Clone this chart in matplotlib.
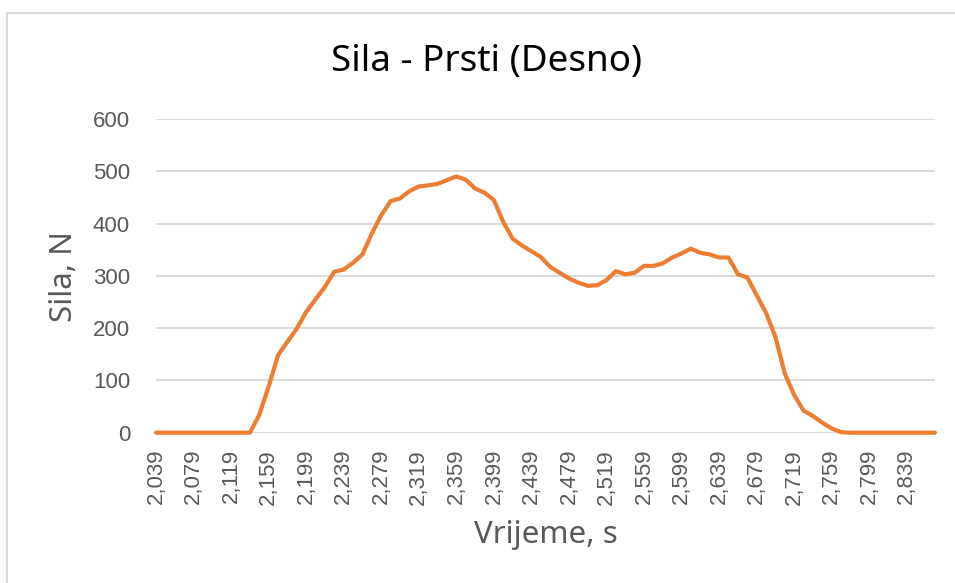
import matplotlib
matplotlib.use("Agg")
import matplotlib.pyplot as plt
from matplotlib.patches import Rectangle

# Data
start_time = 2.039
step = 0.01
force = [0, 0, 0, 0, 0, 0, 0, 0, 0, 0,
         0, 34, 88, 148, 174, 199, 231, 255, 279, 308,
         312, 325, 341, 381, 416, 443, 448, 462, 471, 473,
         476, 483, 490, 484, 467, 459, 445, 403, 371, 358,
         347, 336, 317, 306, 295, 287, 281, 282, 292, 309,
         303, 306, 319, 319, 324, 335, 343, 352, 344, 341,
         335, 335, 303, 297, 263, 229, 183, 113, 72, 42,
         32, 19, 8, 1, 0, 0, 0, 0, 0, 0,
         0, 0, 0, 0]
times = [start_time + step * i for i in range(len(force))]
time_labels = [f"{t:.3f}".replace(".", ",") for t in times]
label_every = 4
y_ticks = [0, 100, 200, 300, 400, 500, 600]

title = "Sila - Prsti (Desno)"
xlabel = "Vrijeme, s"
ylabel = "Sila, N"

W, H = 955, 583
fig = plt.figure(figsize=(W / 100, H / 100), dpi=100)
fig.patch.set_facecolor("white")

# chart border (left/top visible)
fig.patches.append(Rectangle((7 / W, -0.05), 1.2, (H - 13) / H + 0.05,
                             transform=fig.transFigure, fill=False,
                             edgecolor="#d9d9d9", linewidth=1.5))

left, right, top, bottom = 156, 935, 119, 432.7
ax = fig.add_axes([left / W, 1 - bottom / H, (right - left) / W, (bottom - top) / H])

x = list(range(len(force)))
ax.plot(x, force, color="#ED7D31", linewidth=3.0, solid_joinstyle="round",
        solid_capstyle="round", zorder=3, clip_on=False)

ax.set_xlim(0, len(force) - 1)
ax.set_ylim(0, 600)
ax.set_yticks(y_ticks)
ax.set_yticklabels([str(v) for v in y_ticks], fontfamily="Liberation Sans",
                   fontsize=16, color="#595959")
ticks = x[::label_every]
ax.set_xticks(ticks)
ax.set_xticklabels([time_labels[i] for i in ticks], rotation=90,
                   fontfamily="Liberation Sans", fontsize=16, color="#595959")
ax.tick_params(axis="y", length=0, pad=18.7)
ax.tick_params(axis="x", length=0, pad=11.7)
ax.grid(axis="y", color="#d9d9d9", linewidth=1.3, zorder=0)
ax.set_axisbelow(True)
for s in ax.spines.values():
    s.set_visible(False)

fig.text(486.5 / W, 1 - 62 / H, title, ha="center", va="center",
         fontsize=26.5, fontfamily="Noto Sans", color="#000000")
fig.text(64 / W, 1 - 277 / H, ylabel, ha="center", va="center", rotation=90,
         fontsize=22.5, fontfamily="Noto Sans", color="#595959")
fig.text(546 / W, 1 - 535 / H, xlabel, ha="center", va="center",
         fontsize=22.5, fontfamily="Noto Sans", color="#595959")

fig.savefig("out.png", dpi=100)
